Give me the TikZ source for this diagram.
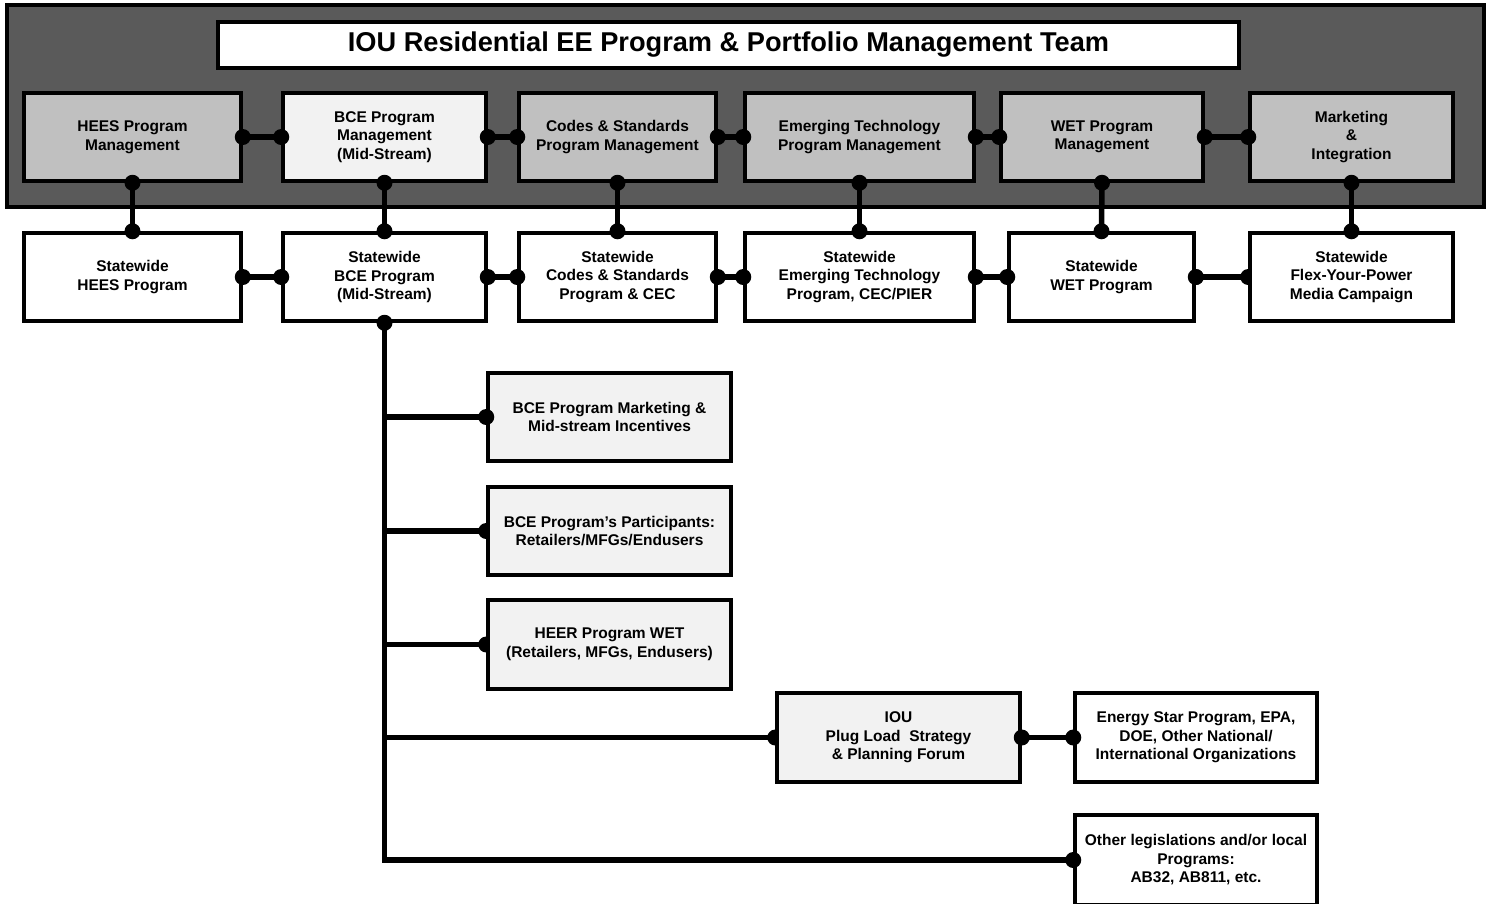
\documentclass[tikz,border=0pt]{standalone}
\usepackage{fontspec}
\setmainfont{Liberation Sans}
\usetikzlibrary{backgrounds}
\definecolor{panel}{HTML}{5A5A5A}
\definecolor{boxgray}{HTML}{C0C0C0}
\definecolor{boxlight}{HTML}{F2F2F2}
\newcommand{\jconn}[2]{\draw[conn] (#1) -- (#2); \fill (#1) circle (8pt); \fill (#2) circle (8pt);}
\begin{document}
\begin{tikzpicture}[x=1pt,y=-1pt,
  box/.style={draw=black, line width=3.5pt, align=center, inner sep=0pt,
    font=\fontsize{15.5}{18.5}\selectfont\bfseries, text=black},
  gbox/.style={box, fill=boxgray},
  lbox/.style={box, fill=boxlight},
  wbox/.style={box, fill=white},
  toprow/.style={minimum height=88pt},
  conn/.style={line width=5.5pt, draw=black},
]
\useasboundingbox (0,0) rectangle (1491,903);
\begin{pgfonlayer}{background}
\fill[white] (0,0) rectangle (1491,903);
\end{pgfonlayer}
% panel
\draw[line width=3.5pt, fill=panel] (7,5) rectangle (1484,207);
\node[wbox, minimum width=1021pt, minimum height=46pt, font=\fontsize{27.2}{30}\selectfont\bfseries] (title) at (728.5,45) {IOU Residential EE Program \& Portfolio Management Team};
% top row
\node[gbox, toprow, minimum width=217pt] (hpm) at (132.5,137) {HEES Program\\Management};
\node[lbox, toprow, minimum width=203pt] (bpm) at (384.5,137) {BCE Program\\Management\\(Mid-Stream)};
\node[gbox, toprow, minimum width=197pt] (cpm) at (617.5,137) {Codes \& Standards\\Program Management};
\node[gbox, toprow, minimum width=229pt] (epm) at (859.5,137) {Emerging Technology\\Program Management};
\node[gbox, toprow, minimum width=202pt] (wpm) at (1102,137) {WET Program\\Management};
\node[gbox, toprow, minimum width=203pt] (mpm) at (1351.5,137) {Marketing\\\&\\Integration};
% second row
\node[wbox, toprow, minimum width=217pt] (hsw) at (132.5,277) {Statewide\\HEES Program};
\node[wbox, toprow, minimum width=203pt] (bsw) at (384.5,277) {Statewide\\BCE Program\\(Mid-Stream)};
\node[wbox, toprow, minimum width=197pt] (csw) at (617.5,277) {Statewide\\Codes \& Standards\\Program \& CEC};
\node[wbox, toprow, minimum width=229pt] (esw) at (859.5,277) {Statewide\\Emerging Technology\\Program, CEC/PIER};
\node[wbox, toprow, minimum width=185pt] (wsw) at (1101.5,277) {Statewide\\WET Program};
\node[wbox, toprow, minimum width=203pt] (fsw) at (1351.5,277) {Statewide\\Flex-Your-Power\\Media Campaign};
% lower boxes
\node[lbox, minimum width=243pt, minimum height=88pt] (m1) at (609.5,417) {BCE Program Marketing \&\\Mid-stream Incentives};
\node[lbox, minimum width=243pt, minimum height=88pt] (m2) at (609.5,531) {BCE Program’s Participants:\\Retailers/MFGs/Endusers};
\node[lbox, minimum width=243pt, minimum height=89pt] (m3) at (609.5,644.5) {HEER Program WET\\(Retailers, MFGs, Endusers)};
\node[lbox, minimum width=243pt, minimum height=89pt] (plug) at (898.5,737.5) {IOU\\Plug Load\ \ Strategy\\\& Planning Forum};
\node[wbox, minimum width=242pt, minimum height=89pt] (es) at (1196,737.5) {Energy Star Program, EPA,\\DOE, Other National/\\International Organizations};
\node[wbox, minimum width=242pt, minimum height=90pt] (oth) at (1196,860) {Other legislations and/or local\\Programs:\\AB32, AB811, etc.};
% connectors: top row
\jconn{hpm.east}{bpm.west}
\jconn{bpm.east}{cpm.west}
\jconn{cpm.east}{epm.west}
\jconn{epm.east}{wpm.west}
\jconn{wpm.east}{mpm.west}
% verticals
\jconn{hpm.south}{hsw.north}
\jconn{bpm.south}{bsw.north}
\jconn{cpm.south}{csw.north}
\jconn{epm.south}{esw.north}
\jconn{wpm.south}{wsw.north}
\jconn{mpm.south}{fsw.north}
% second row
\jconn{hsw.east}{bsw.west}
\jconn{bsw.east}{csw.west}
\jconn{csw.east}{esw.west}
\jconn{esw.east}{wsw.west}
\begin{pgfonlayer}{background}
\jconn{wsw.east}{fsw.west}
\end{pgfonlayer}
\fill (wsw.east) circle (8pt);
% trunk
\draw[conn, line join=miter] (bsw.south) -- (bsw.south |- oth.west) -- (oth.west);
\fill (bsw.south) circle (8pt);
\fill (oth.west) circle (8pt);
\draw[conn] (bsw.south |- m1.west) -- (m1.west);
\fill (m1.west) circle (8pt);
\begin{pgfonlayer}{background}
\draw[conn] (bsw.south |- m2.west) -- (m2.west);
\fill (m2.west) circle (8pt);
\draw[conn] (bsw.south |- m3.west) -- (m3.west);
\fill (m3.west) circle (8pt);
\draw[conn] (bsw.south |- plug.west) -- (plug.west);
\fill (plug.west) circle (8pt);
\end{pgfonlayer}
\jconn{plug.east}{es.west}
\end{tikzpicture}
\end{document}
